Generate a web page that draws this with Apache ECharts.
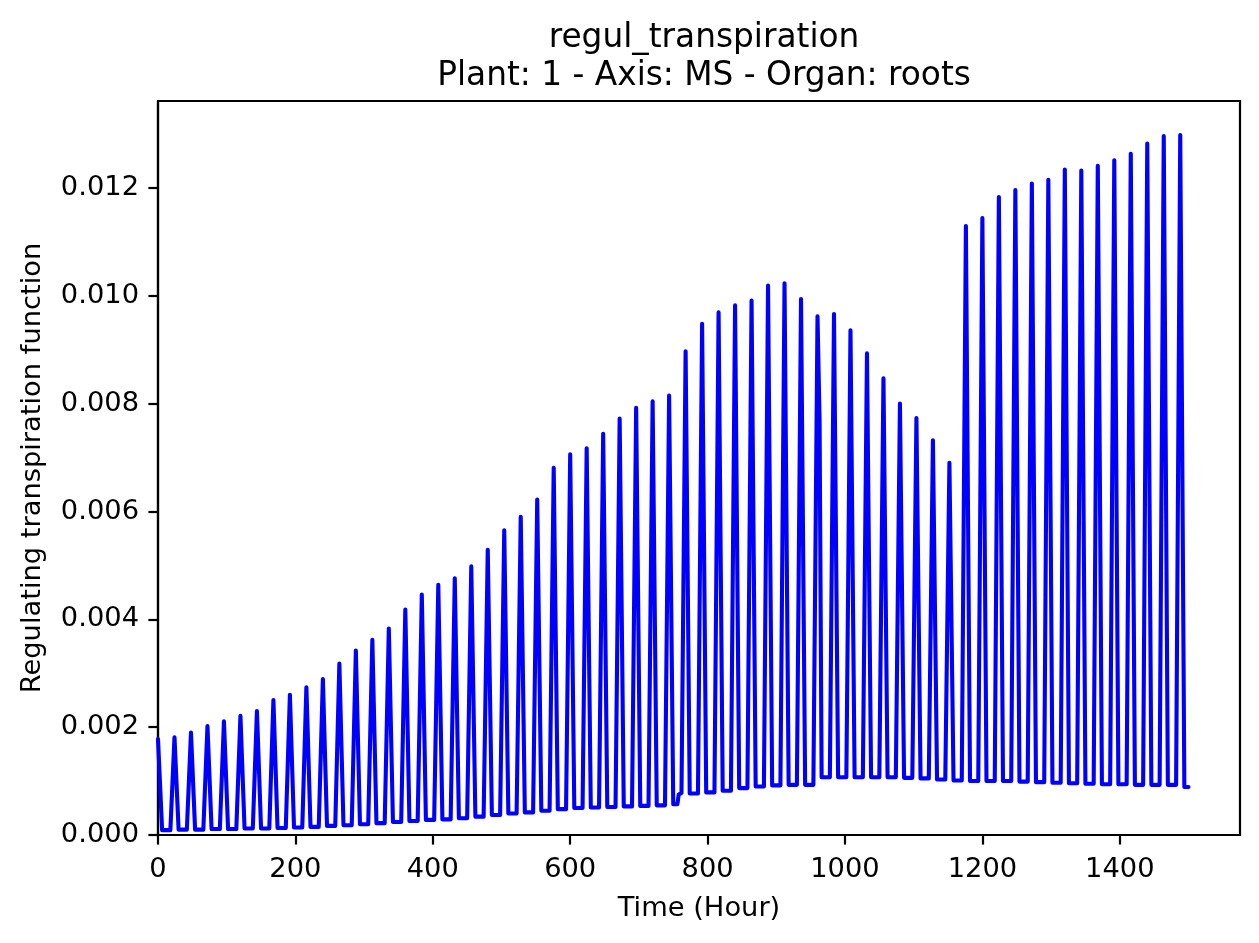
<!DOCTYPE html>
<html>
  <head>
    <meta charset="utf-8" />
    <title>regul_transpiration</title>
    <script src="https://cdn.jsdelivr.net/npm/echarts@6.0.0/dist/echarts.min.js"></script>
    <style>
      html, body { margin: 0; padding: 0; background: #fff; }
    </style>
  </head>
  <body>
    <div id="main" style="width: 1259px; height: 943px"></div>

    <script type="text/javascript">
      // daily peak values (one per day, peak k at hour 24*k)
      const peaks = [
        0.00181, 0.00190, 0.00202, 0.00211, 0.00221, 0.00230, 0.00250, 0.00260, 0.00274, 0.00289,
        0.00318, 0.00342, 0.00362, 0.00383, 0.00418, 0.00446, 0.00464, 0.00476, 0.00498, 0.00529,
        0.00565, 0.00590, 0.00622, 0.00681, 0.00706, 0.00717, 0.00744, 0.00772, 0.00792, 0.00804,
        0.00815, 0.00897, 0.00948, 0.00969, 0.00982, 0.00991, 0.01019, 0.01023, 0.00994, 0.00962,
        0.00966, 0.00936, 0.00893, 0.00847, 0.00800, 0.00773, 0.00732, 0.00690, 0.01129, 0.01144,
        0.01183, 0.01196, 0.01208, 0.01215, 0.01234, 0.01232, 0.01241, 0.01251, 0.01263, 0.01282,
        0.01296, 0.01298
      ]
      // night-time floor between peaks (trough k comes after peak k)
      const troughs = [
        0.00009, 0.00010, 0.00010, 0.00011, 0.00011, 0.00012, 0.00012, 0.00013, 0.00014, 0.00015,
        0.00017, 0.00018, 0.00020, 0.00022, 0.00024, 0.00026, 0.00028, 0.00029, 0.00031, 0.00034,
        0.00037, 0.00040, 0.00042, 0.00045, 0.00048, 0.00050, 0.00051, 0.00052, 0.00053, 0.00054,
        0.00055, 0.00057, 0.00077, 0.00079, 0.00082, 0.00087, 0.00090, 0.00092, 0.00093, 0.00093,
        0.00107, 0.00107, 0.00107, 0.00107, 0.00107, 0.00106, 0.00105, 0.00103, 0.00101, 0.00100,
        0.00100, 0.00100, 0.00099, 0.00098, 0.00097, 0.00096, 0.00095, 0.00094, 0.00094, 0.00093,
        0.00093, 0.00093, 0.00089
      ]
      const startValue = 0.00178
      const endHour = 1500
      // odd points: [hour, value]
      const extraPoints = [
        [756, 0.00057],
        [758, 0.00075],
        [762, 0.00078],
        [963, 0.00768]
      ]
      const xTicks = [0, 200, 400, 600, 800, 1000, 1200, 1400]
      const yTicks = [0, 0.002, 0.004, 0.006, 0.008, 0.01, 0.012]

      // build the curve: flat trough, sharp rise to the peak, sharp fall
      const byHour = new Map()
      byHour.set(0, startValue)
      for (let k = 0; k < peaks.length; k++) {
        byHour.set(24 * k + 6, troughs[k])
        byHour.set(24 * k + 18, troughs[k])
        byHour.set(24 * (k + 1), peaks[k])
      }
      byHour.set(24 * peaks.length + 6, troughs[peaks.length])
      byHour.set(endHour, troughs[peaks.length])
      extraPoints.forEach(([h, v]) => byHour.set(h, v))
      const data = Array.from(byHour.entries()).sort((a, b) => a[0] - b[0])

      const font = 'DejaVu Sans'
      const myChart = echarts.init(document.getElementById('main'))

      const option = {
        animation: false,
        backgroundColor: '#fff',
        title: {
          text: 'regul_transpiration\nPlant: 1 - Axis: MS - Organ: roots',
          left: 699,
          top: 14,
          textAlign: 'center',
          textStyle: {
            fontFamily: font,
            fontSize: 32.8,
            fontWeight: 'normal',
            color: '#000',
            lineHeight: 38
          }
        },
        grid: {
          left: 158,
          right: 19,
          top: 101,
          bottom: 108,
          show: true,
          borderColor: '#000',
          borderWidth: 2.2,
          backgroundColor: 'transparent'
        },
        xAxis: {
          type: 'value',
          min: 0,
          max: 1575,
          name: 'Time (Hour)',
          nameLocation: 'middle',
          nameGap: 60,
          nameTextStyle: { fontFamily: font, fontSize: 27.3, color: '#000' },
          axisLine: { lineStyle: { color: '#000', width: 2.2 } },
          axisTick: {
            customValues: xTicks,
            length: 9.6,
            lineStyle: { color: '#000', width: 2.2 }
          },
          axisLabel: {
            customValues: xTicks,
            margin: 21,
            fontFamily: font,
            fontSize: 27.3,
            color: '#000',
            formatter: (v) => String(v)
          },
          splitLine: { show: false }
        },
        yAxis: {
          type: 'value',
          min: 0,
          max: 0.01361,
          name: 'Regulating transpiration function',
          nameLocation: 'middle',
          nameRotate: 90,
          nameGap: 112,
          nameTextStyle: { fontFamily: font, fontSize: 27.3, color: '#000' },
          axisLine: { show: true, lineStyle: { color: '#000', width: 2.2 } },
          axisTick: {
            show: true,
            customValues: yTicks,
            length: 9.6,
            lineStyle: { color: '#000', width: 2.2 }
          },
          axisLabel: {
            customValues: yTicks,
            margin: 19,
            fontFamily: font,
            fontSize: 27.3,
            color: '#000',
            formatter: (v) => v.toFixed(3)
          },
          splitLine: { show: false }
        },
        series: [
          {
            type: 'line',
            data: data,
            showSymbol: false,
            symbol: 'none',
            lineStyle: { color: '#0000ff', width: 4.1, join: 'round', cap: 'round' },
            itemStyle: { color: '#0000ff' }
          }
        ]
      }

      myChart.setOption(option)
    </script>
  </body>
</html>
